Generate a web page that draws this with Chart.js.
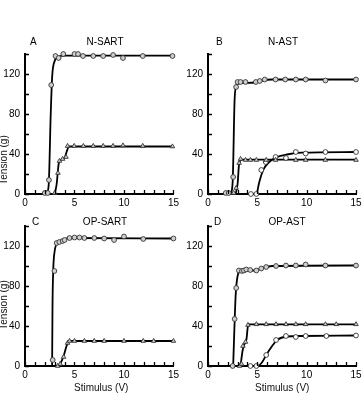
<!DOCTYPE html>
<html>
<head>
<meta charset="UTF-8">
<title>Tension vs stimulus</title>
<script src="https://cdn.jsdelivr.net/npm/chart.js"></script>
<style>
  body { margin: 0; background: #fff; width: 364px; height: 409px; overflow: hidden; position: relative;
         font-family: "Liberation Sans", Arial, sans-serif; color: #111; }
  canvas { position: absolute; }
  .txt { position: absolute; font-size: 10px; white-space: nowrap; }
  .rot { transform: translate(-50%, -50%) rotate(-90deg); }
</style>
</head>
<body>
<canvas id="cA" width="182" height="180" style="left:0;top:35px"></canvas>
<canvas id="cB" width="182" height="180" style="left:183px;top:35px"></canvas>
<canvas id="cC" width="182" height="180" style="left:0;top:207px"></canvas>
<canvas id="cD" width="182" height="180" style="left:183px;top:207px"></canvas>
<div class="txt rot" style="left:3px;top:160px">Tension (g)</div>
<div class="txt rot" style="left:3px;top:305px">Tension (g)</div>
<div class="txt" style="left:74px;top:382px">Stimulus (V)</div>
<div class="txt" style="left:255px;top:382px">Stimulus (V)</div>

<script>
// axis ticks
const xTicks = [0, 5, 10, 15];
const yTicks = [0, 40, 80, 120];

// A: N-SART  (points [stimulus V, tension g], and the drawn curve)
const aHigh = [[2.0,1],[2.3,1],[2.42,14],[2.65,109],[3.08,138],[3.4,136],[3.87,140],[5.0,140],[5.36,140],[5.86,138],[6.9,138],[7.9,138],[8.9,139],[9.9,136],[11.9,138],[14.9,138]];
const aHighFit = [[2.2,0],[2.4,10],[2.6,80],[2.75,118],[3.0,133],[3.4,137.5],[4,138.3],[15,138.3]];
const aLow = [[3.0,1],[3.33,21],[3.48,33],[3.8,35],[4.14,37],[4.3,48],[4.97,48],[5.9,48],[6.9,48],[7.9,48],[8.9,48],[9.9,48.5],[11.9,48],[14.9,47.5]];
const aLowFit = [[3.0,0],[3.2,10],[3.4,30],[3.6,34],[4.0,36],[4.2,42],[4.45,47.5],[15,47.5]];

// B: N-AST
const bHigh = [[1.8,1],[2.1,1],[2.55,17],[2.85,107],[3.0,112],[3.3,112],[3.8,112],[4.85,112],[5.25,113],[5.75,114.5],[6.85,114.5],[7.83,114.5],[8.9,114.5],[9.9,114.5],[11.9,113.5],[15,114.5]];
const bHighFit = [[2.3,0],[2.5,12],[2.7,95],[2.9,109],[3.3,111],[4.8,111.5],[5.5,113.5],[6.5,114.5],[15,114.5]];
const bMid = [[2.6,1],[2.85,6],[3.15,31],[3.3,35],[3.8,34],[4.3,34],[4.9,34],[5.9,34],[6.85,34],[8.9,34],[9.9,34],[11.9,34],[15,34]];
const bMidFit = [[2.8,0],[3.0,10],[3.15,30],[3.4,34.3],[15,34.3]];
const bLow = [[4.35,0],[4.9,0],[5.4,24],[5.85,32],[6.85,37],[7.9,36],[8.9,42],[9.9,40.5],[11.9,42],[15,42]];
const bLowFit = [[4.95,0],[5.2,12],[5.6,24],[6.2,32],[7.0,37],[8.0,39.5],[9.5,41.3],[15,42]];

// C: OP-SART
const cHigh = [[2.8,6],[2.97,95],[3.2,123],[3.47,124],[3.8,125],[4.0,126],[4.5,128],[5.0,128.5],[5.5,128.5],[6.0,128],[7.0,128],[8.0,127.5],[9.0,126],[10.0,129.5],[11.95,127],[15,127.5]];
const cHighFit = [[2.74,0],[2.78,60],[2.85,95],[3.0,115],[3.3,123],[3.8,126],[4.6,128],[15,127.5]];
const cLow = [[3.3,0],[3.56,2],[3.9,9],[4.3,23],[4.5,25],[5.0,25],[6.0,25],[7.0,25],[8.0,25],[10.0,25],[11.95,25],[13.0,25],[15,25]];
const cLowFit = [[3.3,0],[3.6,3],[3.9,10],[4.2,20],[4.45,25],[15,25]];

// D: OP-AST
const dHigh = [[2.5,0],[2.7,47],[2.86,78],[3.13,95.5],[3.44,95],[3.64,95.5],[3.88,96.5],[4.28,96],[4.9,95.5],[5.4,97.5],[5.9,99],[6.9,100],[7.9,100.5],[8.9,100.5],[9.9,101.5],[11.9,100.5],[15,100.5]];
const dHighFit = [[2.55,0],[2.65,30],[2.8,70],[3.0,90],[3.3,95],[4.8,95.5],[5.5,98],[6.5,100],[15,100.5]];
const dMid = [[3.2,0],[3.4,2],[3.54,20],[3.8,24],[4.05,41],[4.9,41.7],[5.9,41.7],[6.9,41.7],[7.9,41.7],[8.9,41.7],[9.9,41.7],[11.9,41.7],[13.0,41.7],[15,41.7]];
const dMidFit = [[3.3,0],[3.5,15],[3.7,22],[3.9,27],[4.05,40],[4.2,41.7],[15,41.7]];
const dLow = [[4.3,0],[4.9,0],[5.9,11],[6.9,26],[7.9,30],[8.9,29],[9.9,30],[12.0,30],[15,30.5]];
const dLowFit = [[5.15,0],[5.5,4],[5.9,11],[6.5,20],[7.0,26],[8.0,29.5],[9.5,30],[15,30.5]];

const FONT = { family: '"Liberation Sans", Arial, sans-serif', size: 10 };
const INK = '#000';

function pts(arr) { return arr.map(p => ({ x: p[0], y: p[1] })); }

function curve(arr) {
  return { data: pts(arr), showLine: true, pointRadius: 0, borderColor: INK, borderWidth: 1.8,
           cubicInterpolationMode: 'monotone', order: 2 };
}

function marks(arr, style, fill) {
  return { data: pts(arr), showLine: false, pointStyle: style, pointRadius: style === 'triangle' ? 2.6 : 2.4,
           backgroundColor: fill, borderColor: '#333', borderWidth: 0.9, clip: false, order: 1 };
}

// ticks point inwards, so draw them from the scales after the chart
const inwardTicks = {
  id: 'inwardTicks',
  afterDraw(chart) {
    const ctx = chart.ctx, xs = chart.scales.x, ys = chart.scales.y, a = chart.chartArea;
    ctx.save();
    ctx.strokeStyle = INK;
    ctx.lineWidth = 1.3;
    ctx.beginPath();
    xs.ticks.forEach(t => {
      const px = Math.round(xs.getPixelForValue(t.value)) + 0.5;
      ctx.moveTo(px, a.bottom); ctx.lineTo(px, a.bottom - 4);
    });
    ys.ticks.forEach(t => {
      const py = Math.round(ys.getPixelForValue(t.value)) + 0.5;
      ctx.moveTo(a.left, py); ctx.lineTo(a.left + 4, py);
    });
    ctx.stroke();
    const o = chart.options.plugins.panelText;
    ctx.fillStyle = INK;
    ctx.font = '10px "Liberation Sans", Arial, sans-serif';
    ctx.textBaseline = 'middle';
    ctx.textAlign = 'left';
    ctx.fillText(o.letter, o.letterX, o.y);
    ctx.textAlign = 'center';
    ctx.fillText(o.title, o.titleX, o.y);
    ctx.restore();
  }
};

function panel(id, datasets, text, padRight) {
  new Chart(document.getElementById(id), {
    type: 'scatter',
    data: { datasets },
    options: {
      responsive: false,
      animation: false,
      layout: { padding: { top: 19, right: padRight, left: 0, bottom: 0 } },
      plugins: { legend: { display: false }, tooltip: { enabled: false }, panelText: text },
      scales: {
        x: {
          type: 'linear', min: 0, max: 15,
          afterFit: s => { s.height = 21; },
          ticks: { stepSize: 1, autoSkip: false, maxRotation: 0, padding: 3, color: INK, font: FONT,
                   callback: v => xTicks.includes(v) ? String(v) : '' },
          grid: { drawOnChartArea: false, drawTicks: false },
          border: { color: INK, width: 2 }
        },
        y: {
          min: 0, max: 140,
          afterFit: s => { s.width = 25; },
          ticks: { stepSize: 20, autoSkip: false, padding: 5, color: INK, font: FONT,
                   callback: v => yTicks.includes(v) ? String(v) : '' },
          grid: { drawOnChartArea: false, drawTicks: false },
          border: { color: INK, width: 2 }
        }
      }
    },
    plugins: [inwardTicks]
  });
}

const GREY = '#cfcfcf', WHITE = '#fff';

panel('cA', [curve(aHighFit), curve(aLowFit), marks(aHigh, 'circle', GREY), marks(aLow, 'triangle', GREY)],
      { letter: 'A', title: 'N-SART', letterX: 30, titleX: 105, y: 7 }, 6);
panel('cB', [curve(bHighFit), curve(bMidFit), curve(bLowFit), marks(bHigh, 'circle', GREY), marks(bMid, 'triangle', GREY), marks(bLow, 'circle', WHITE)],
      { letter: 'B', title: 'N-AST', letterX: 33, titleX: 100, y: 7 }, 9);
panel('cC', [curve(cHighFit), curve(cLowFit), marks(cHigh, 'circle', GREY), marks(cLow, 'triangle', GREY)],
      { letter: 'C', title: 'OP-SART', letterX: 32, titleX: 105, y: 15 }, 6);
panel('cD', [curve(dHighFit), curve(dMidFit), curve(dLowFit), marks(dHigh, 'circle', GREY), marks(dMid, 'triangle', GREY), marks(dLow, 'circle', WHITE)],
      { letter: 'D', title: 'OP-AST', letterX: 31, titleX: 104, y: 15 }, 9);
</script>
</body>
</html>
